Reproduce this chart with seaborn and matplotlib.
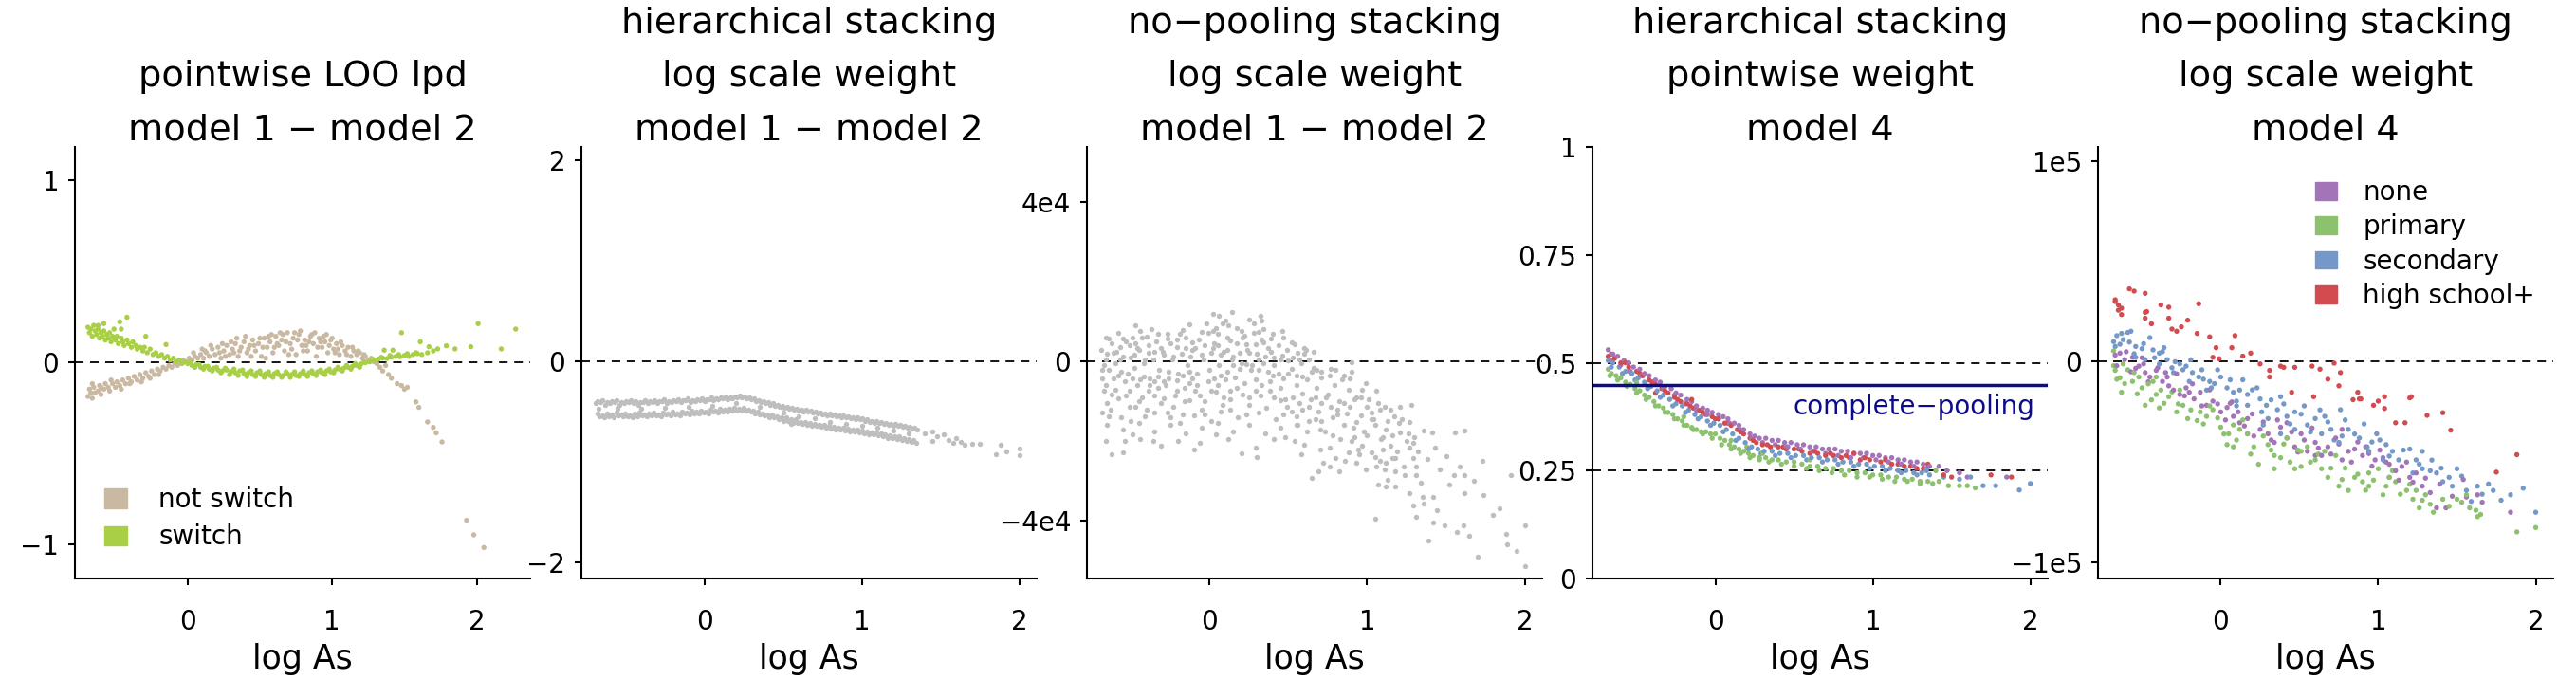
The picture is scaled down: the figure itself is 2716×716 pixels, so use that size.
import matplotlib
matplotlib.use("Agg")
import matplotlib.pyplot as plt
from matplotlib.patches import Patch
import pandas as pd
import seaborn as sns

# ---- data: (log As, value) ----
# panel 1: pointwise LOO lpd, model 1 - model 2
not_switch = [(-0.69,-0.19),(-0.68,-0.15),(-0.67,-0.17),(-0.66,-0.20),(-0.65,-0.14),(-0.64,-0.17),(-0.62,-0.16),(-0.61,-0.13),
    (-0.60,-0.18),(-0.58,-0.15),(-0.57,-0.12),(-0.55,-0.14),(-0.54,-0.16),(-0.52,-0.12),(-0.50,-0.14),(-0.49,-0.11),(-0.47,-0.13),
    (-0.45,-0.10),(-0.43,-0.12),(-0.41,-0.09),(-0.39,-0.11),(-0.37,-0.08),(-0.35,-0.10),(-0.33,-0.07),(-0.31,-0.09),(-0.29,-0.06),
    (-0.27,-0.08),(-0.25,-0.05),(-0.23,-0.07),(-0.21,-0.04),(-0.19,-0.05),(-0.17,-0.03),(-0.15,-0.04),(-0.13,-0.02),(-0.11,-0.03),
    (-0.09,-0.01),(-0.07,-0.02),(-0.05,0.00),(-0.03,0.01),(-0.01,0.00),(0.01,0.02),(0.03,0.01),(0.05,0.03),(0.07,0.02),(0.09,0.04),
    (0.11,0.02),(0.13,0.05),(0.15,0.03),(0.17,0.07),(0.19,0.04),(0.21,0.08),(0.23,0.02),(0.25,0.06),(0.27,0.09),(0.29,0.04),
    (0.31,0.07),(0.33,0.10),(0.35,0.03),(0.37,0.08),(0.39,0.11),(0.41,0.05),(0.43,0.09),(0.45,0.12),(0.47,0.06),(0.49,0.10),
    (0.51,0.03),(0.53,0.13),(0.55,0.08),(0.57,0.11),(0.59,0.05),(0.61,0.14),(0.63,0.09),(0.65,0.12),(0.67,0.06),(0.69,0.16),
    (0.71,0.10),(0.73,0.13),(0.75,0.04),(0.77,0.15),(0.79,0.09),(0.81,0.12),(0.83,0.06),(0.85,0.14),(0.87,0.10),(0.89,0.03),
    (0.91,0.13),(0.93,0.08),(0.95,0.11),(0.97,0.05),(0.99,0.12),(1.01,0.07),(1.03,0.10),(1.05,0.04),(1.07,0.09),(1.09,0.06),
    (1.11,0.08),(1.13,0.03),(1.15,0.06),(1.17,0.04),(1.19,0.05),(1.21,0.02),(1.23,0.03),(1.25,0.01),(1.27,0.02),(1.29,0.00),
    (0.12,0.06),(0.22,0.05),(0.32,0.05),(0.42,0.07),(0.52,0.08),(0.62,0.10),(0.72,0.07),(0.82,0.09),(0.92,0.11),(1.02,0.05),
    (0.58,0.15),(0.66,0.15),(0.74,0.16),(0.86,0.15),(0.94,0.14),(0.46,0.09),(0.36,0.06),(0.26,0.03),
    (0.04,0.05),(0.10,0.07),(0.16,0.09),(0.24,0.10),(0.30,0.11),(0.34,0.13),(0.40,0.14),(0.44,0.03),(0.50,0.13),(0.54,0.02),
    (0.56,0.14),(0.60,0.08),(0.64,0.16),(0.68,0.11),(0.70,0.04),(0.76,0.12),(0.78,0.17),(0.80,0.06),(0.84,0.11),(0.88,0.16),
    (0.90,0.08),(0.96,0.15),(0.98,0.09),(1.00,0.13),(1.04,0.07),(1.06,0.11),(1.10,0.04),(1.14,0.08),(1.18,0.06),(1.22,0.04),
    (-0.66,-0.12),(-0.60,-0.14),(-0.53,-0.10),(-0.46,-0.15),(-0.40,-0.12),(-0.32,-0.11),(-0.26,-0.09),(-0.20,-0.07),
    (1.31,-0.01),(1.33,-0.03),(1.35,-0.05),(1.37,-0.02),(1.39,-0.07),(1.41,-0.09),(1.45,-0.12),(1.48,-0.13),(1.50,-0.15),
    (1.52,-0.14),(1.58,-0.22),(1.60,-0.25),(1.66,-0.33),(1.70,-0.36),(1.72,-0.39),(1.76,-0.44),(1.93,-0.87),(1.98,-0.95),(2.05,-1.02)]
switch = [(-0.69,0.19),(-0.68,0.16),(-0.67,0.18),(-0.66,0.14),(-0.65,0.20),(-0.64,0.17),(-0.63,0.15),(-0.62,0.18),(-0.61,0.13),
    (-0.60,0.16),(-0.59,0.14),(-0.58,0.17),(-0.57,0.12),(-0.56,0.15),(-0.55,0.13),(-0.54,0.16),(-0.53,0.11),(-0.52,0.14),
    (-0.50,0.12),(-0.49,0.14),(-0.48,0.10),(-0.46,0.13),(-0.45,0.11),(-0.44,0.09),(-0.42,0.12),(-0.41,0.10),(-0.39,0.08),
    (-0.38,0.11),(-0.36,0.09),(-0.35,0.07),(-0.33,0.08),(-0.31,0.06),(-0.30,0.08),(-0.28,0.05),(-0.26,0.07),(-0.24,0.04),
    (-0.22,0.05),(-0.20,0.03),(-0.18,0.04),(-0.16,0.02),(-0.14,0.03),(-0.12,0.01),(-0.10,0.02),(-0.08,0.00),(-0.06,0.01),
    (-0.04,-0.01),(-0.02,0.00),(0.00,-0.01),(0.03,-0.02),(0.06,-0.015),(0.09,-0.03),(0.12,-0.025),(0.15,-0.04),(0.18,-0.035),
    (0.21,-0.045),(0.24,-0.05),(0.27,-0.045),(0.30,-0.055),(0.33,-0.06),(0.36,-0.05),(0.39,-0.065),(0.42,-0.06),(0.45,-0.07),
    (0.48,-0.06),(0.51,-0.07),(0.54,-0.065),(0.57,-0.075),(0.60,-0.065),(0.63,-0.07),(0.66,-0.075),(0.69,-0.065),(0.72,-0.07),
    (0.75,-0.075),(0.78,-0.065),(0.81,-0.07),(0.84,-0.06),(0.87,-0.065),(0.90,-0.055),(0.93,-0.06),(0.96,-0.05),(0.99,-0.055),
    (1.02,-0.045),(1.05,-0.04),(1.08,-0.035),(1.11,-0.03),(1.14,-0.025),(1.17,-0.02),(1.20,-0.012),(1.23,-0.005),(1.26,0.00),
    (1.29,0.008),(1.32,0.015),(1.35,0.02),(1.38,0.018),(1.41,0.025),(1.44,0.03),(1.47,0.028),(1.50,0.035),(1.53,0.03),
    (1.56,0.04),(1.59,0.045),(1.62,0.04),(1.66,0.05),(1.70,0.06),
    (0.02,0.00),(0.08,-0.015),(0.14,-0.025),(0.20,-0.03),(0.26,-0.035),(0.32,-0.04),(0.38,-0.045),(0.44,-0.05),(0.50,-0.05),
    (0.56,-0.055),(0.62,-0.055),(0.68,-0.055),(0.74,-0.055),(0.80,-0.05),(0.86,-0.05),(0.92,-0.045),(0.98,-0.04),(1.04,-0.03),
    (1.10,-0.02),(1.16,-0.01),(1.22,0.00),(1.28,0.015),(1.34,0.025),(1.40,0.035),(1.46,0.04),(1.52,0.045),(1.58,0.05),
    (0.05,-0.03),(0.11,-0.04),(0.17,-0.05),(0.23,-0.06),(0.29,-0.07),(0.35,-0.075),(0.41,-0.08),(0.47,-0.08),(0.53,-0.085),
    (0.59,-0.085),(0.65,-0.085),(0.71,-0.085),(0.77,-0.08),(0.83,-0.08),(0.89,-0.075),(0.95,-0.07),(1.01,-0.06),(1.07,-0.05),
    (1.13,-0.04),(1.19,-0.03),
    (-0.62,0.20),(-0.58,0.21),(-0.51,0.18),(-0.47,0.22),(-0.42,0.245),(-0.46,0.18),(-0.29,0.14),(-0.15,0.095),(1.48,0.16),
    (1.61,0.11),(1.36,0.064),(1.42,0.064),(1.67,0.083),(1.73,0.071),(1.79,0.088),(1.85,0.071),(1.96,0.083),(2.01,0.21),
    (2.17,0.071),(2.27,0.18)]

# panel 2: hierarchical stacking, log scale weight, model 1 - model 2
hier_logw = [(-0.69,-0.42),(-0.66,-0.41),(-0.63,-0.43),(-0.60,-0.42),(-0.57,-0.41),(-0.54,-0.43),(-0.51,-0.42),(-0.48,-0.41),
    (-0.45,-0.42),(-0.42,-0.43),(-0.39,-0.41),(-0.36,-0.42),(-0.33,-0.41),(-0.30,-0.42),(-0.27,-0.40),(-0.24,-0.42),(-0.21,-0.41),
    (-0.18,-0.40),(-0.15,-0.41),(-0.12,-0.39),(-0.09,-0.41),(-0.06,-0.40),(-0.03,-0.39),(0.00,-0.40),(0.03,-0.38),(0.06,-0.39),
    (0.09,-0.38),(0.12,-0.37),(0.15,-0.38),(0.18,-0.37),(0.21,-0.36),(0.24,-0.36),(0.27,-0.37),(0.30,-0.38),(0.33,-0.40),
    (0.36,-0.41),(0.39,-0.42),(0.42,-0.43),(0.45,-0.44),(0.48,-0.45),(0.51,-0.46),(0.54,-0.47),(0.57,-0.48),(0.60,-0.49),
    (0.63,-0.50),(0.66,-0.50),(0.69,-0.51),(0.72,-0.52),(0.75,-0.53),(0.78,-0.54),(0.81,-0.54),(0.84,-0.55),(0.87,-0.56),
    (0.90,-0.56),(0.93,-0.57),(0.96,-0.58),(0.99,-0.58),(1.02,-0.59),(1.05,-0.60),(1.08,-0.61),(1.11,-0.61),(1.14,-0.62),
    (1.17,-0.63),(1.20,-0.64),(1.23,-0.64),(1.26,-0.65),(1.29,-0.66),(1.32,-0.67),(1.35,-0.68),
    (-0.675,-0.40),(-0.645,-0.39),(-0.615,-0.41),(-0.585,-0.40),(-0.555,-0.39),(-0.525,-0.41),(-0.495,-0.40),(-0.465,-0.39),
    (-0.435,-0.40),(-0.405,-0.41),(-0.375,-0.39),(-0.345,-0.40),(-0.315,-0.39),(-0.285,-0.40),(-0.255,-0.38),(-0.225,-0.40),
    (-0.195,-0.39),(-0.165,-0.38),(-0.135,-0.39),(-0.105,-0.37),(-0.075,-0.39),(-0.045,-0.38),(-0.015,-0.37),(0.015,-0.38),
    (0.045,-0.36),(0.075,-0.37),(0.105,-0.36),(0.135,-0.35),(0.165,-0.36),(0.195,-0.35),(0.225,-0.34),(0.255,-0.35),
    (0.285,-0.36),(0.315,-0.37),(0.345,-0.39),(0.375,-0.40),(0.405,-0.41),(0.435,-0.42),(0.465,-0.43),(0.495,-0.44),
    (0.525,-0.45),(0.555,-0.46),(0.585,-0.47),(0.615,-0.48),(0.645,-0.48),(0.675,-0.49),(0.705,-0.50),(0.735,-0.51),
    (0.765,-0.52),(0.795,-0.52),(0.825,-0.53),(0.855,-0.54),(0.885,-0.54),(0.915,-0.55),(0.945,-0.56),(0.975,-0.56),
    (1.005,-0.57),(1.035,-0.58),(1.065,-0.59),(1.095,-0.59),(1.125,-0.60),(1.155,-0.61),(1.185,-0.62),(1.215,-0.62),
    (1.245,-0.63),(1.275,-0.64),(1.305,-0.65),(1.335,-0.66),
    (-0.68,-0.52),(-0.65,-0.54),(-0.62,-0.52),(-0.59,-0.53),(-0.56,-0.51),(-0.53,-0.53),(-0.50,-0.52),(-0.47,-0.54),(-0.44,-0.52),
    (-0.41,-0.51),(-0.38,-0.53),(-0.35,-0.52),(-0.32,-0.51),(-0.29,-0.53),(-0.26,-0.51),(-0.23,-0.52),(-0.20,-0.50),(-0.17,-0.52),
    (-0.14,-0.50),(-0.11,-0.51),(-0.08,-0.49),(-0.05,-0.50),(-0.02,-0.49),(0.01,-0.50),(0.04,-0.48),(0.07,-0.49),(0.10,-0.47),
    (0.13,-0.48),(0.16,-0.47),(0.19,-0.46),(0.22,-0.47),(0.25,-0.46),(0.28,-0.48),(0.31,-0.49),(0.34,-0.50),(0.37,-0.52),
    (0.40,-0.53),(0.43,-0.53),(0.46,-0.55),(0.49,-0.56),(0.52,-0.56),(0.55,-0.58),(0.58,-0.58),(0.61,-0.60),(0.64,-0.60),
    (0.67,-0.61),(0.70,-0.62),(0.73,-0.63),(0.76,-0.63),(0.79,-0.64),(0.82,-0.65),(0.85,-0.66),(0.88,-0.66),(0.91,-0.67),
    (0.94,-0.68),(0.97,-0.68),(1.00,-0.69),(1.03,-0.70),(1.06,-0.71),(1.09,-0.71),(1.12,-0.72),(1.15,-0.73),(1.18,-0.74),
    (1.21,-0.75),(1.24,-0.75),(1.27,-0.76),(1.30,-0.77),(1.33,-0.78),
    (-0.665,-0.55),(-0.635,-0.56),(-0.605,-0.55),(-0.575,-0.56),(-0.545,-0.54),(-0.515,-0.55),(-0.485,-0.55),(-0.455,-0.56),
    (-0.425,-0.55),(-0.395,-0.54),(-0.365,-0.55),(-0.335,-0.54),(-0.305,-0.54),(-0.275,-0.55),(-0.245,-0.53),(-0.215,-0.54),
    (-0.185,-0.53),(-0.155,-0.54),(-0.125,-0.52),(-0.095,-0.53),(-0.065,-0.52),(-0.035,-0.52),(-0.005,-0.51),(0.025,-0.52),
    (0.055,-0.50),(0.085,-0.51),(0.115,-0.50),(0.145,-0.50),(0.175,-0.49),(0.205,-0.49),(0.235,-0.49),(0.265,-0.49),
    (0.295,-0.50),(0.325,-0.52),(0.355,-0.53),(0.385,-0.54),(0.415,-0.56),(0.445,-0.56),(0.475,-0.58),(0.505,-0.59),
    (0.535,-0.59),(0.565,-0.61),(0.595,-0.61),(0.625,-0.62),(0.655,-0.63),(0.685,-0.64),(0.715,-0.64),(0.745,-0.65),
    (0.775,-0.66),(0.805,-0.67),(0.835,-0.68),(0.865,-0.68),(0.895,-0.69),(0.925,-0.70),(0.955,-0.70),(0.985,-0.71),
    (1.015,-0.72),(1.045,-0.73),(1.075,-0.73),(1.105,-0.74),(1.135,-0.75),(1.165,-0.76),(1.195,-0.76),(1.225,-0.77),
    (1.255,-0.78),(1.285,-0.79),(1.315,-0.80),(1.345,-0.81),
    (-0.67,-0.47),(-0.55,-0.47),(-0.40,-0.47),(-0.25,-0.46),(-0.10,-0.45),(0.05,-0.44),(0.20,-0.42),(0.35,-0.45),(0.50,-0.51),
    (0.60,-0.55),(0.70,-0.57),(0.80,-0.60),(0.90,-0.62),(1.00,-0.64),(1.10,-0.66),(1.20,-0.69),(1.30,-0.72),(0.55,-0.62),
    (1.40,-0.72),(1.45,-0.70),(1.48,-0.75),(1.52,-0.73),(1.55,-0.78),(1.60,-0.76),(1.63,-0.80),(1.65,-0.83),(1.70,-0.82),
    (1.75,-0.82),(1.85,-0.92),(1.88,-0.83),(1.92,-0.90),(2.00,-0.87),(2.00,-0.93),(1.45,-0.79),(1.58,-0.81)]

# panel 3: no-pooling stacking, log scale weight, model 1 - model 2 (values in units of 1e4)
nopool_logw_1e4 = [(0.02,1.19),(0.06,1.16),(0.14,1.25),(0.25,1.05),(0.32,1.14),(0.33,1.03),(0.10,1.02),(0.08,0.96),(0.02,0.78),
    (0.04,0.85),(-0.47,0.90),(-0.44,0.78),(-0.37,0.81),(-0.33,0.69),(-0.58,0.73),(-0.66,0.61),(-0.64,0.57),(-0.55,0.57),
    (-0.49,0.61),(-0.47,0.45),(-0.40,0.63),(-0.27,0.57),(-0.17,0.79),(-0.13,0.93),(-0.19,0.69),(-0.11,0.49),(-0.05,0.75),
    (-0.01,0.73),(0.03,0.45),(0.11,0.61),(0.17,0.85),(0.20,0.77),(0.22,0.65),(0.28,0.73),(0.31,0.74),(0.34,0.81),(0.39,0.57),
    (0.46,0.78),(0.47,0.61),(0.52,0.49),(0.54,0.43),(0.60,0.35),(0.66,0.25),(0.61,0.29),(0.56,0.21),(0.39,0.25),(0.34,0.49),
    (0.29,0.44),(0.23,0.44),(0.13,0.53),(0.11,0.29),(0.05,0.41),(-0.03,0.41),(-0.09,0.33),(-0.15,0.33),(-0.21,0.37),(-0.25,0.45),
    (-0.31,0.33),(-0.35,0.25),(-0.39,0.21),(-0.45,0.29),(-0.51,0.41),(-0.57,0.37),(-0.61,0.21),(-0.66,0.06),(-0.59,0.25),
    (-0.55,0.13),(-0.48,0.17),(-0.41,0.06),(-0.29,0.17),(-0.23,0.13),(-0.12,0.13),(-0.05,0.17),(0.01,0.21),(0.07,0.17),
    (0.15,0.13),(0.19,0.21),(0.25,0.21),(0.31,0.06),(0.35,0.13),(0.41,0.10),(0.45,0.06),(0.50,0.02),(0.57,0.06),(0.63,0.06),
    (0.90,-0.02),
    (-0.68,-0.42),(-0.67,-0.10),(-0.64,-0.22),(-0.61,-0.42),(-0.58,-0.34),(-0.54,-0.50),(-0.49,-0.42),(-0.46,-0.58),(-0.42,-0.38),
    (-0.38,-0.42),(-0.35,-0.50),(-0.33,-0.38),(-0.29,-0.50),(-0.26,-0.42),(-0.21,-0.46),(-0.17,-0.34),(-0.13,-0.26),(-0.11,-0.42),
    (-0.08,-0.58),(-0.01,-0.50),(0.03,-0.42),(0.07,-0.34),(0.11,-0.26),(0.15,-0.10),(0.19,-0.18),(0.23,-0.06),(0.27,-0.10),
    (0.31,-0.22),(0.37,-0.26),(0.40,-0.34),(0.44,-0.30),(0.47,-0.42),(0.52,-0.18),(0.55,-0.34),(0.59,-0.38),(0.65,-0.26),
    (0.68,-0.22),(0.71,-0.26),(0.77,-0.18),(0.80,-0.22),(0.85,-0.34),(0.90,-0.26),(0.89,-0.42),(0.99,-0.54),(1.06,-0.74),
    (-0.67,-0.74),(-0.65,-1.05),(-0.62,-0.82),(-0.58,-0.93),(-0.51,-0.74),(-0.47,-1.13),(-0.43,-0.89),(-0.39,-0.74),(-0.33,-0.66),
    (-0.29,-0.93),(-0.23,-1.13),(-0.21,-0.74),(-0.16,-0.66),(-0.13,-0.97),(-0.09,-0.74),(-0.05,-1.21),(0.01,-0.74),(0.05,-0.58),
    (0.09,-0.89),(0.13,-0.74),(0.17,-0.66),(0.21,-0.82),(0.25,-0.89),(0.29,-0.74),(0.33,-0.58),(0.38,-0.74),(0.41,-0.89),
    (0.45,-0.97),(0.49,-1.13),(0.53,-0.89),(0.57,-1.05),(0.59,-1.21),(0.63,-1.13),(0.67,-0.89),(0.71,-1.05),(0.75,-0.82),
    (0.77,-1.13),(0.81,-1.21),(0.85,-1.05),(0.89,-1.13),(0.93,-0.89),(0.96,-0.89),(1.00,-1.13),(1.03,-1.29),(1.07,-1.05),
    (1.11,-1.13),(1.15,-1.21),(1.21,-1.13),(1.28,-1.09),(-0.68,-1.29),(-0.64,-1.37),(-0.51,-1.13),(-0.41,-1.37),(-0.35,-1.29),
    (-0.27,-1.29),(-0.17,-1.33),(-0.03,-1.33),(0.07,-1.25),(0.13,-1.21),(0.23,-1.33),(0.31,-1.29),(0.47,-1.33),(0.55,-1.37),
    (0.67,-1.45),(0.71,-1.49),(0.81,-1.33),(0.93,-1.53),(1.03,-1.45),(1.17,-1.37),(1.27,-1.53),
    (-0.65,-1.6),(-0.55,-1.7),(-0.45,-1.55),(-0.35,-1.75),(-0.25,-1.6),(-0.15,-1.8),(-0.05,-1.65),(0.05,-1.55),(0.15,-1.75),
    (0.25,-1.6),(0.35,-1.8),(0.45,-1.65),(0.55,-1.6),(0.62,-1.75),(0.70,-1.7),(0.78,-1.85),(0.85,-1.6),(0.92,-1.9),(0.98,-1.75),
    (1.05,-1.6),(1.12,-1.7),(1.20,-1.55),(1.30,-1.9),(0.60,-2.1),(0.70,-2.2),(0.90,-2.0),(0.30,-2.4),(-0.10,-2.2),(0.20,-2.3),
    (-0.66,-2.0),(-0.62,-2.32),(-0.55,-2.27),(-0.54,-2.0),(-0.49,-1.84),(-0.44,-1.95),(-0.36,-2.0),(-0.31,-2.11),(-0.20,-2.0),
    (-0.06,-2.05),(0.04,-1.84),(0.12,-1.95),(0.29,-2.16),(0.41,-1.95),(0.48,-1.89),(0.58,-2.32),(0.65,-2.92),(0.72,-2.54),
    (0.80,-2.43),(0.88,-2.27),(0.95,-2.32),(0.97,-2.11),(1.03,-2.27),(1.06,-2.65),(1.08,-2.49),(1.11,-2.70),(1.13,-2.97),
    (1.16,-2.43),(1.18,-2.76),(1.23,-2.65),(1.27,-2.16),(1.29,-2.43),(1.31,-2.65),(1.05,-3.95),(1.07,-3.08),(1.12,-3.14),
    (1.18,-3.14),(1.27,-3.30),(1.31,-2.86),(1.35,-3.41),(1.36,-1.73),(1.41,-1.78),(1.43,-2.16),(1.50,-2.38),(1.56,-1.78),
    (1.62,-1.73),(1.55,-2.86),(1.59,-2.65),(1.62,-2.86),(1.73,-2.49),(1.36,-3.57),(1.42,-3.41),(1.31,-3.89),(1.39,-4.49),
    (1.44,-3.73),(1.49,-4.11),(1.57,-4.27),(1.61,-4.11),(1.62,-3.30),(1.74,-3.35),(1.84,-3.68),(1.91,-2.86),(1.88,-4.32),
    (1.89,-4.59),(2.00,-4.11),(2.00,-5.14),(1.65,-4.38),(1.29,-3.62),(1.18,-2.43),(1.10,-2.22),(0.86,-2.49),(0.76,-2.65),
    (0.69,-2.76),(0.82,-2.76),(0.93,-2.54),(0.99,-2.70),(0.54,-2.0),(0.76,-2.16),(1.25,-2.0),(1.21,-1.78),(1.10,-1.89),(1.15,-2.11),
    (-0.69,0.30),(-0.68,-0.20),(-0.66,-0.60),(-0.65,0.20),(-0.63,-1.20),(-0.62,0.45),(-0.60,-0.05),(-0.60,-0.70),(-0.57,0.05),
    (-0.56,-1.40),(-0.56,-0.25),(-0.53,0.50),(-0.53,-0.85),(-0.52,-0.30),(-0.50,0.10),(-0.50,-1.50),(-0.48,-0.15),(-0.46,0.35),
    (-0.45,-1.00),(-0.44,-0.45),(-0.43,0.60),(-0.42,-0.05),(-0.40,-1.20),(-0.39,0.40),(-0.38,-0.60),(-0.36,0.05),(-0.35,-0.85),
    (-0.34,0.50),(-0.32,-0.20),(-0.31,-1.05),(-0.30,0.25),(-0.28,-0.60),(-0.27,0.70),(-0.26,-0.25),(-0.25,-1.40),(-0.24,0.05),
    (-0.22,-0.85),(-0.21,0.55),(-0.20,-0.30),(-0.19,-1.55),(-0.18,0.20),(-0.16,-1.00),(-0.15,0.60),(-0.14,-0.10),(-0.13,-0.55),
    (-0.11,0.30),(-0.10,-1.35),(-0.08,-0.30),(-0.07,0.55),(-0.06,-0.85),(-0.04,0.05),(-0.03,-1.00),(-0.02,0.95),(0.00,-0.20),
    (0.01,-1.50),(0.02,0.35),(0.04,-0.75),(0.05,0.70),(0.06,-0.10),(0.08,-1.10),(0.09,0.25),(0.10,-0.45),(0.12,0.90),
    (0.13,-0.95),(0.14,0.05),(0.16,-0.40),(0.17,0.45),(0.18,-1.40),(0.20,-0.05),(0.21,0.60),(0.22,-0.55),(0.24,0.30),
    (0.25,-1.10),(0.26,-0.20),(0.28,0.95),(0.29,-0.45),(0.30,0.20),(0.32,-0.85),(0.33,0.55),(0.34,-0.05),(0.36,-1.15),
    (0.37,0.35),(0.38,-0.50),(0.40,0.70),(0.41,-0.10),(0.42,-1.45),(0.44,0.40),(0.45,-0.65),(0.46,0.15),(0.48,-0.95),
    (0.49,0.30),(0.50,-0.30),(0.52,-1.25),(0.53,0.10),(0.55,-0.60),(0.56,-1.60),(0.58,-0.05),(0.59,-0.80),(0.60,0.20),
    (0.62,-0.45),(0.63,-1.50),(0.64,-0.95),(0.66,-0.15),(0.68,-0.65),(0.69,-1.25),(0.71,-0.40),(0.73,-1.75),(0.74,-0.90),
    (0.76,-0.35),(0.78,-1.40),(0.79,-0.60),(0.82,-1.00),(0.83,-1.95),(0.84,-0.45),(0.87,-1.30),(0.88,-0.70),(0.91,-1.65),
    (0.92,-0.95),(0.94,-2.20),(0.96,-1.35),(0.97,-0.70),(1.00,-1.85),(1.01,-0.95),(1.04,-1.45),(1.05,-2.40),(1.08,-1.20),
    (1.09,-1.95),(1.12,-2.55),(1.13,-1.50),(1.16,-1.85),(1.19,-2.25),(1.22,-1.45),(1.24,-2.85),(1.26,-1.80),(1.29,-2.05),
    (1.32,-2.25),(1.34,-3.05),(1.38,-2.45),(1.46,-2.70),(1.52,-3.10),(1.68,-3.00),(1.80,-3.85),(1.95,-4.75),(1.70,-4.90),(1.42,-4.05)]

# panel 4: hierarchical stacking, pointwise weight of model 4, by education group
w4_none = [(-0.68,0.53),(-0.65,0.52),(-0.62,0.515),(-0.58,0.505),(-0.55,0.50),(-0.52,0.49),(-0.48,0.485),(-0.45,0.475),
    (-0.42,0.47),(-0.38,0.46),(-0.35,0.455),(-0.32,0.445),(-0.28,0.44),(-0.25,0.43),(-0.22,0.425),(-0.18,0.415),(-0.15,0.41),
    (-0.12,0.40),(-0.08,0.395),(-0.05,0.39),(-0.02,0.385),(0.02,0.38),(0.05,0.375),(0.08,0.37),(0.12,0.36),(0.15,0.355),
    (0.18,0.345),(0.22,0.335),(0.25,0.33),(0.28,0.325),(0.32,0.325),(0.36,0.32),(0.40,0.32),(0.44,0.315),(0.48,0.315),
    (0.52,0.31),(0.56,0.31),(0.60,0.305),(0.64,0.305),(0.68,0.30),(0.72,0.30),(0.76,0.30),(0.80,0.295),(0.84,0.295),
    (0.88,0.29),(0.92,0.29),(0.96,0.29),(1.00,0.285),(1.04,0.285),(1.08,0.28),(1.12,0.28),(1.16,0.275),(1.20,0.275),
    (1.24,0.27),(1.28,0.27),(1.32,0.265),(1.36,0.26),(1.42,0.26),(1.47,0.25),(1.55,0.245),(1.60,0.235),(1.85,0.235),
    (-0.66,0.505),(-0.60,0.495),(-0.54,0.48),(-0.47,0.47),(-0.40,0.455),(-0.33,0.44),(-0.26,0.425),(-0.19,0.405),(-0.12,0.39),
    (-0.05,0.38),(0.02,0.37),(0.09,0.36),(0.16,0.345),(0.23,0.325),(0.30,0.315),(0.38,0.31),(0.46,0.305),(0.54,0.30),
    (0.62,0.295),(0.70,0.29),(0.78,0.285),(0.86,0.28),(0.94,0.28),(1.02,0.275),(1.10,0.27),(1.18,0.265),(1.26,0.26),(1.34,0.255)]
w4_primary = [(-0.68,0.485),(-0.66,0.475),(-0.63,0.47),(-0.60,0.465),(-0.57,0.455),(-0.54,0.45),(-0.51,0.44),(-0.48,0.435),
    (-0.45,0.425),(-0.42,0.42),(-0.39,0.41),(-0.36,0.40),(-0.33,0.395),(-0.30,0.385),(-0.27,0.38),(-0.24,0.37),(-0.21,0.365),
    (-0.18,0.355),(-0.15,0.35),(-0.12,0.345),(-0.09,0.34),(-0.06,0.34),(-0.03,0.335),(0.00,0.335),(0.03,0.325),(0.06,0.32),
    (0.09,0.31),(0.12,0.305),(0.15,0.30),(0.18,0.295),(0.21,0.29),(0.24,0.285),(0.28,0.28),(0.32,0.28),(0.36,0.275),
    (0.40,0.275),(0.45,0.27),(0.50,0.27),(0.55,0.265),(0.60,0.26),(0.65,0.26),(0.70,0.255),(0.75,0.255),(0.80,0.25),
    (0.85,0.25),(0.90,0.245),(0.95,0.245),(1.00,0.24),(1.05,0.24),(1.10,0.235),(1.15,0.235),(1.20,0.23),(1.25,0.23),
    (1.30,0.225),(1.35,0.225),(1.42,0.225),(1.48,0.215),(1.55,0.215),(1.60,0.215),(1.65,0.21),(0.10,0.32),(0.30,0.29),
    (0.60,0.275),(1.40,0.25),(-0.50,0.455),(-0.20,0.375),(0.20,0.305),
    (-0.67,0.47),(-0.62,0.46),(-0.56,0.445),(-0.50,0.43),(-0.44,0.415),(-0.38,0.40),(-0.32,0.385),(-0.26,0.37),(-0.20,0.355),
    (-0.14,0.345),(-0.08,0.335),(-0.02,0.325),(0.04,0.31),(0.10,0.30),(0.16,0.29),(0.22,0.28),(0.28,0.275),(0.34,0.27),
    (0.42,0.265),(0.50,0.26),(0.58,0.255),(0.66,0.25),(0.74,0.245),(0.82,0.24),(0.90,0.235),(0.98,0.235),(1.06,0.23),
    (1.14,0.225),(1.22,0.225),(1.30,0.22),(1.38,0.22)]
w4_secondary = [(-0.68,0.505),(-0.65,0.50),(-0.61,0.49),(-0.57,0.48),(-0.53,0.475),(-0.49,0.465),(-0.45,0.455),(-0.41,0.445),
    (-0.37,0.435),(-0.33,0.425),(-0.29,0.415),(-0.25,0.405),(-0.21,0.40),(-0.17,0.39),(-0.13,0.38),(-0.09,0.375),(-0.05,0.365),
    (-0.01,0.36),(0.03,0.355),(0.07,0.345),(0.11,0.335),(0.15,0.325),(0.19,0.315),(0.23,0.305),(0.27,0.30),(0.31,0.295),
    (0.36,0.295),(0.41,0.29),(0.46,0.29),(0.51,0.285),(0.56,0.285),(0.61,0.28),(0.66,0.28),(0.71,0.275),(0.76,0.275),
    (0.81,0.27),(0.86,0.27),(0.91,0.265),(0.96,0.265),(1.01,0.26),(1.06,0.26),(1.11,0.255),(1.16,0.25),(1.21,0.25),
    (1.26,0.245),(1.31,0.245),(1.36,0.24),(1.45,0.235),(1.55,0.23),(1.62,0.235),(1.70,0.215),(1.78,0.215),(1.93,0.205),
    (2.00,0.22),(0.45,0.305),(0.75,0.285),
    (-0.66,0.49),(-0.59,0.475),(-0.51,0.46),(-0.43,0.44),(-0.35,0.42),(-0.27,0.40),(-0.19,0.385),(-0.11,0.37),(-0.03,0.355),
    (0.05,0.34),(0.13,0.32),(0.21,0.30),(0.29,0.29),(0.38,0.285),(0.48,0.28),(0.58,0.275),(0.68,0.27),(0.78,0.265),
    (0.88,0.26),(0.98,0.255),(1.08,0.25),(1.18,0.245),(1.28,0.24),(1.34,0.25)]
w4_high = [(-0.68,0.515),(-0.64,0.51),(-0.60,0.50),(-0.55,0.49),(-0.50,0.48),(-0.46,0.47),(-0.42,0.46),(-0.38,0.45),
    (-0.34,0.44),(-0.30,0.43),(-0.26,0.42),(-0.22,0.41),(-0.18,0.405),(-0.14,0.395),(-0.10,0.39),(-0.06,0.38),(-0.02,0.375),
    (0.02,0.37),(0.06,0.36),(0.10,0.355),(0.14,0.345),(0.18,0.335),(0.22,0.325),(0.26,0.315),(0.30,0.31),(0.35,0.305),
    (0.40,0.305),(0.45,0.30),(0.50,0.30),(0.55,0.295),(0.60,0.29),(0.65,0.29),(0.70,0.285),(0.75,0.285),(0.80,0.28),
    (0.85,0.28),(0.88,0.29),(0.92,0.275),(0.98,0.275),(1.05,0.27),(1.12,0.265),(1.20,0.26),(1.28,0.255),(1.35,0.265),
    (1.45,0.24),(1.50,0.235),(1.75,0.24),(1.88,0.235),(-0.38,0.43),(-0.15,0.415),
    (-0.66,0.52),(-0.57,0.50),(-0.48,0.475),(-0.40,0.455),(-0.32,0.435),(-0.24,0.415),(-0.16,0.40),(-0.08,0.385),(0.00,0.37),
    (0.08,0.36),(0.16,0.34),(0.24,0.32),(0.33,0.31),(0.43,0.305),(0.53,0.30),(0.63,0.295),(0.73,0.29),(0.83,0.285),
    (0.95,0.28),(1.08,0.275),(1.16,0.265),(1.24,0.26),(1.32,0.255)]
complete_pooling_w = 0.448

# panel 5: no-pooling stacking, log scale weight of model 4 (values in units of 1e4)
lw4_none = [(-0.67,0.33),(-0.64,0.43),(-0.61,0.11),(-0.56,0.22),(-0.52,-0.22),(-0.49,-0.11),(-0.48,-0.54),(-0.45,-0.76),
    (-0.41,-0.43),(-0.37,-0.98),(-0.34,-0.76),(-0.30,-1.41),(-0.26,-1.63),(-0.22,-1.30),(-0.17,-1.85),(-0.13,-1.52),
    (-0.09,-2.17),(-0.05,-1.96),(0.00,-2.50),(0.04,-2.28),(0.08,-2.72),(0.12,-3.04),(0.17,-2.83),(0.21,-3.70),(0.25,-3.37),
    (0.30,-3.59),(0.34,-4.02),(0.38,-3.26),(0.42,-3.80),(0.47,-4.24),(0.51,-3.59),(0.55,-4.46),(0.60,-4.02),(0.64,-4.67),
    (0.68,-4.24),(0.73,-3.80),(0.77,-4.89),(0.81,-4.46),(0.85,-4.35),(0.90,-4.67),(0.94,-4.57),(0.98,-4.89),(1.03,-4.78),
    (1.07,-5.11),(1.11,-5.43),(1.15,-5.22),(1.20,-5.76),(1.24,-5.54),(1.28,-6.20),(1.33,-6.52),(1.37,-7.28),(1.43,-7.28),
    (1.54,-5.87),(1.63,-6.63),(1.84,-7.50),(1.56,-6.74),(1.07,-5.76),(0.92,-4.24),(0.77,-3.37),(0.60,-4.67),(0.42,-3.04),
    (0.17,-3.59),(0.06,-2.07),(-0.20,-1.52),(-0.35,-0.54),(-0.54,-0.33),
    (-0.66,-0.2),(-0.60,0.5),(-0.57,-0.5),(-0.50,0.2),(-0.46,-1.0),(-0.40,-0.3),(-0.33,-1.2),(-0.28,-0.6),(-0.23,-1.7),
    (-0.18,-1.1),(-0.12,-2.2),(-0.07,-1.4),(-0.02,-2.1),(0.03,-2.9),(0.07,-2.0),(0.11,-2.5),(0.15,-3.2),(0.20,-2.6),
    (0.27,-3.0),(0.32,-3.9),(0.36,-2.9),(0.45,-3.5),(0.49,-4.5),(0.53,-3.9),(0.58,-3.3),(0.62,-4.3),(0.70,-4.6),(0.75,-4.1),
    (0.83,-5.0),(0.87,-4.0),(0.96,-5.2),(1.01,-4.4),(1.05,-5.0),(1.13,-5.9),(1.18,-5.0),(1.22,-6.0),(1.30,-5.8),(1.39,-6.1),
    (1.47,-6.7),(1.66,-7.0)]
lw4_primary = [(-0.68,0.54),(-0.67,-0.43),(-0.66,-0.87),(-0.62,-0.11),(-0.61,-1.09),(-0.56,-0.98),(-0.55,-0.54),(-0.50,-1.30),
    (-0.48,-2.17),(-0.43,-0.98),(-0.41,-1.63),(-0.38,-1.41),(-0.36,-2.07),(-0.33,-1.74),(-0.28,-2.50),(-0.24,-2.17),
    (-0.21,-2.83),(-0.15,-2.93),(-0.13,-2.50),(-0.09,-2.72),(-0.05,-2.39),(0.00,-3.26),(0.04,-4.13),(0.08,-4.24),(0.12,-3.37),
    (0.17,-3.59),(0.21,-4.24),(0.24,-5.11),(0.30,-4.13),(0.34,-4.67),(0.38,-4.78),(0.42,-3.80),(0.47,-5.33),(0.51,-5.22),
    (0.55,-4.24),(0.60,-4.89),(0.64,-5.33),(0.68,-5.76),(0.73,-4.67),(0.77,-5.87),(0.81,-6.41),(0.85,-5.76),(0.90,-5.98),
    (0.94,-5.54),(1.00,-5.33),(1.03,-6.63),(1.07,-5.76),(1.11,-5.98),(1.18,-6.41),(1.22,-6.85),(1.26,-7.28),(1.30,-6.63),
    (1.35,-7.50),(1.41,-6.85),(1.50,-6.85),(1.56,-6.63),(1.63,-7.72),(1.65,-7.61),(1.58,-7.28),(1.88,-8.48),(2.00,-8.26),
    (1.09,-5.43),(0.94,-6.20),(0.66,-4.46),(0.34,-5.33),(0.08,-3.15),(-0.26,-1.41),(-0.41,-0.76),(-0.52,-0.76),(-0.63,-1.52),
    (0.05,-3.59),(0.51,-4.46),(1.24,-6.41),
    (-0.68,-0.2),(-0.64,-0.8),(-0.59,-0.4),(-0.53,-1.6),(-0.46,-1.1),(-0.44,-1.9),(-0.39,-2.3),(-0.31,-1.5),(-0.27,-2.1),
    (-0.19,-2.4),(-0.11,-3.1),(-0.07,-2.2),(-0.02,-2.8),(0.02,-3.6),(0.10,-3.9),(0.14,-2.9),(0.19,-4.6),(0.27,-3.7),
    (0.32,-4.4),(0.40,-4.1),(0.44,-5.0),(0.49,-4.4),(0.57,-5.0),(0.62,-4.6),(0.70,-5.3),(0.75,-6.2),(0.79,-5.3),(0.87,-5.6),
    (0.92,-6.4),(0.97,-5.9),(1.05,-6.2),(1.14,-6.6),(1.20,-6.1),(1.28,-6.9),(1.33,-7.1),(1.45,-7.2),(1.53,-7.0),(1.62,-7.4)]
lw4_secondary = [(-0.66,1.30),(-0.63,1.41),(-0.59,1.46),(-0.57,1.52),(-0.67,0.76),(-0.64,0.87),(-0.58,0.98),(-0.54,0.76),
    (-0.50,0.65),(-0.45,1.20),(-0.43,0.59),(-0.39,0.43),(-0.37,0.50),(-0.34,0.11),(-0.29,0.00),(-0.26,-0.11),(-0.22,-0.22),
    (-0.18,-0.54),(-0.14,-0.76),(-0.11,-0.87),(-0.07,-0.98),(-0.04,-1.09),(0.00,-0.76),(0.04,-1.30),(0.08,-1.52),(0.12,-1.41),
    (0.17,-1.63),(0.23,-1.30),(0.25,-1.85),(0.29,-2.17),(0.36,-2.39),(0.38,-1.74),(0.42,-2.72),(0.47,-2.50),(0.51,-2.61),
    (0.55,-3.15),(0.60,-2.83),(0.66,-2.72),(0.70,-3.37),(0.76,-2.39),(0.77,-3.70),(0.81,-3.37),(0.88,-3.80),(0.93,-4.24),
    (0.99,-3.59),(1.03,-4.89),(1.09,-4.46),(1.13,-4.89),(1.20,-4.35),(1.24,-4.89),(1.28,-5.33),(1.33,-5.43),(1.37,-5.54),
    (1.41,-5.98),(1.50,-5.33),(1.63,-6.20),(1.70,-6.09),(1.73,-6.41),(1.84,-6.63),(1.92,-6.30),(2.00,-7.50),(1.59,-6.96),
    (1.05,-4.13),(0.94,-4.46),(0.64,-3.59),(0.38,-3.59),(0.30,-2.83),(0.17,-2.17),(0.10,-1.96),(-0.09,-1.41),(-0.20,-0.98),
    (-0.30,-0.54),(-0.39,-0.11),(-0.48,0.11),(-0.54,0.22),(0.27,-3.15),(0.47,-3.37),(0.75,-4.02),(1.22,-5.54),(1.28,-4.46),
    (1.56,-6.41),(1.45,-5.76),
    (-0.68,1.0),(-0.62,1.1),(-0.55,0.4),(-0.49,0.9),(-0.42,0.2),(-0.36,0.7),(-0.31,-0.3),(-0.24,-0.4),(-0.19,0.1),(-0.12,-0.4),
    (-0.06,-1.3),(-0.02,-0.4),(0.06,-0.9),(0.10,-2.2),(0.14,-0.9),(0.20,-1.4),(0.26,-2.5),(0.32,-1.9),(0.40,-2.1),(0.44,-3.1),
    (0.53,-2.2),(0.57,-3.5),(0.63,-2.4),(0.68,-3.0),(0.72,-3.9),(0.79,-2.9),(0.85,-3.6),(0.91,-3.1),(0.96,-4.0),(1.01,-3.9),
    (1.07,-4.7),(1.16,-4.4),(1.26,-5.1),(1.34,-4.9),(1.40,-5.3),(1.47,-6.2),(1.53,-5.7),(1.66,-6.6),(1.78,-6.9)]
lw4_high = [(-0.67,3.09),(-0.67,3.0),(-0.65,2.83),(-0.63,2.67),(-0.65,2.57),(-0.63,2.35),(-0.58,3.63),(-0.55,3.52),(-0.48,3.41),
    (-0.48,2.46),(-0.47,2.5),(-0.44,1.89),(-0.48,2.17),(-0.38,2.83),(-0.33,2.72),(-0.33,2.17),(-0.31,1.63),(-0.28,1.52),
    (-0.25,1.74),(-0.21,2.07),(-0.14,2.89),(-0.15,1.41),(-0.07,1.24),(-0.03,0.7),(-0.05,0.22),(-0.01,0.15),(0.09,1.3),(0.07,0.7),
    (0.14,0.28),(0.19,0.43),(0.25,-0.11),(0.31,-0.76),(0.31,-0.43),(0.38,-0.22),(0.40,-0.28),(0.47,-0.28),(0.45,-1.52),
    (0.58,-0.22),(0.59,-1.74),(0.63,-0.37),(0.68,-0.87),(0.72,-0.07),(0.76,-0.54),(0.75,-1.2),(0.87,-1.52),(0.84,-1.89),
    (0.88,-1.85),(0.89,-1.85),(0.97,-2.17),(1.00,-1.96),(1.04,-1.74),(1.04,-2.33),(1.11,-3.04),(1.17,-3.04),(1.21,-1.74),
    (1.20,-1.8),(1.31,-2.67),(1.41,-2.54),(1.46,-3.41),(1.75,-5.5),(1.88,-4.63)]

edu_levels = ["none", "primary", "secondary", "high school+"]
edu_colors = ["#A474B8", "#8CC16E", "#7499C9", "#D24B4F"]
switch_levels = ["not switch", "switch"]
switch_colors = ["#C9B9A2", "#A8CF45"]
grey = "#BEBEBE"

titles = ["pointwise LOO lpd\nmodel 1 \u2212 model 2",
          "hierarchical stacking\nlog scale weight\nmodel 1 \u2212 model 2",
          "no\u2212pooling stacking\nlog scale weight\nmodel 1 \u2212 model 2",
          "hierarchical stacking\npointwise weight\nmodel 4",
          "no\u2212pooling stacking\nlog scale weight\nmodel 4"]


def frame(pts, group=None, scale=1.0):
    df = pd.DataFrame(pts, columns=["log_as", "value"])
    df["value"] = df["value"] * scale
    if group is not None:
        df["group"] = group
    return df


sns.set_style("ticks", {"axes.edgecolor": "black", "text.color": "black", "axes.labelcolor": "black",
                        "xtick.color": "black", "ytick.color": "black"})
plt.rcParams["font.family"] = ["DejaVu Sans"]
plt.rcParams["axes.linewidth"] = 1.5
plt.rcParams["xtick.major.width"] = 1.5
plt.rcParams["ytick.major.width"] = 1.5
plt.rcParams["lines.scale_dashes"] = False

fig = plt.figure(figsize=(27.16, 7.16), dpi=100)
lefts = [0.0291, 0.2257, 0.4219, 0.6182, 0.8144]
axes = [fig.add_axes([l, 0.148, 0.1767, 0.6355]) for l in lefts]
dash = (0, (6.5, 5))
pt = 15

# panel 1
ax = axes[0]
df1 = pd.concat([frame(not_switch, "not switch"), frame(switch, "switch")])
ax.axhline(0, color="black", lw=1.3, ls=dash, zorder=0)
sns.scatterplot(data=df1, x="log_as", y="value", hue="group", hue_order=switch_levels,
                palette=switch_colors, s=pt, linewidth=0, legend=False, ax=ax)
ax.set_xlim(-0.78, 2.37)
ax.set_ylim(-1.19, 1.18)
ax.set_yticks([-1, 0, 1])
ax.set_yticklabels(["\u22121", "0", "1"])
ax.legend(handles=[Patch(color=c, label=l) for c, l in zip(switch_colors, switch_levels)],
          loc="lower left", bbox_to_anchor=(0.065, 0.065), frameon=False, fontsize=20, borderaxespad=0,
          handlelength=0.85, handleheight=0.75, handletextpad=1.2, labelspacing=0.4, borderpad=0)

# panel 2
ax = axes[1]
ax.axhline(0, color="black", lw=1.3, ls=dash, zorder=0)
sns.scatterplot(data=frame(hier_logw), x="log_as", y="value", color=grey, s=pt, linewidth=0, ax=ax)
ax.set_xlim(-0.78, 2.11)
ax.set_ylim(-2.16, 2.13)
ax.set_yticks([-2, 0, 2])
ax.set_yticklabels(["\u22122", "0", "2"])

# panel 3
ax = axes[2]
ax.axhline(0, color="black", lw=1.3, ls=dash, zorder=0)
sns.scatterplot(data=frame(nopool_logw_1e4, scale=1e4), x="log_as", y="value", color=grey, s=pt, linewidth=0, ax=ax)
ax.set_xlim(-0.78, 2.11)
ax.set_ylim(-5.45e4, 5.39e4)
ax.set_yticks([-4e4, 0, 4e4])
ax.set_yticklabels(["\u22124e4", "0", "4e4"])

# panel 4 (points drawn in order of log As so the groups interleave)
ax = axes[3]
df4 = pd.concat([frame(w4_none, "none"), frame(w4_primary, "primary"),
                 frame(w4_secondary, "secondary"), frame(w4_high, "high school+")])
df4 = df4.sort_values("log_as", kind="stable")
ax.axhline(0.5, color="black", lw=1.3, ls=dash, zorder=0)
ax.axhline(0.25, color="black", lw=1.3, ls=dash, zorder=0)
sns.scatterplot(data=df4, x="log_as", y="value", hue="group", hue_order=edu_levels,
                palette=edu_colors, s=pt, linewidth=0, legend=False, ax=ax)
ax.axhline(complete_pooling_w, color="#0C0C8A", lw=2.5)
ax.text(2.03, 0.38, "complete\u2212pooling", color="#0C0C8A", fontsize=20, ha="right", va="baseline")
ax.set_xlim(-0.78, 2.11)
ax.set_ylim(0, 1)
ax.set_yticks([0, 0.25, 0.5, 0.75, 1])
ax.set_yticklabels(["0", "0.25", "0.5", "0.75", "1"])

# panel 5
ax = axes[4]
df5 = pd.concat([frame(lw4_none, "none", 1e4), frame(lw4_primary, "primary", 1e4),
                 frame(lw4_secondary, "secondary", 1e4), frame(lw4_high, "high school+", 1e4)])
df5 = df5.sort_values("log_as", kind="stable")
ax.axhline(0, color="black", lw=1.3, ls=dash, zorder=0)
sns.scatterplot(data=df5, x="log_as", y="value", hue="group", hue_order=edu_levels,
                palette=edu_colors, s=pt, linewidth=0, legend=False, ax=ax)
ax.set_xlim(-0.78, 2.11)
ax.set_ylim(-1.08e5, 1.07e5)
ax.set_yticks([-1e5, 0, 1e5])
ax.set_yticklabels(["\u22121e5", "0", "1e5"])
ax.legend(handles=[Patch(color=c, label=l) for c, l in zip(edu_colors, edu_levels)],
          loc="upper left", bbox_to_anchor=(0.478, 0.925), frameon=False, fontsize=20, borderaxespad=0,
          handlelength=0.8, handleheight=0.65, handletextpad=1.0, labelspacing=0.3, borderpad=0)

for ax, t in zip(axes, titles):
    sns.despine(ax=ax)
    ax.set_title(t, fontsize=27.5, linespacing=1.72, pad=3)
    ax.set_xticks([0, 1, 2])
    ax.set_xticklabels(["0", "1", "2"])
    ax.set_xlabel("log As", fontsize=25, labelpad=6)
    ax.set_ylabel("")
    ax.tick_params(axis="x", labelsize=20, length=5, pad=18)
    ax.tick_params(axis="y", labelsize=20, length=5, pad=7)

fig.savefig("out.png", dpi=100)
